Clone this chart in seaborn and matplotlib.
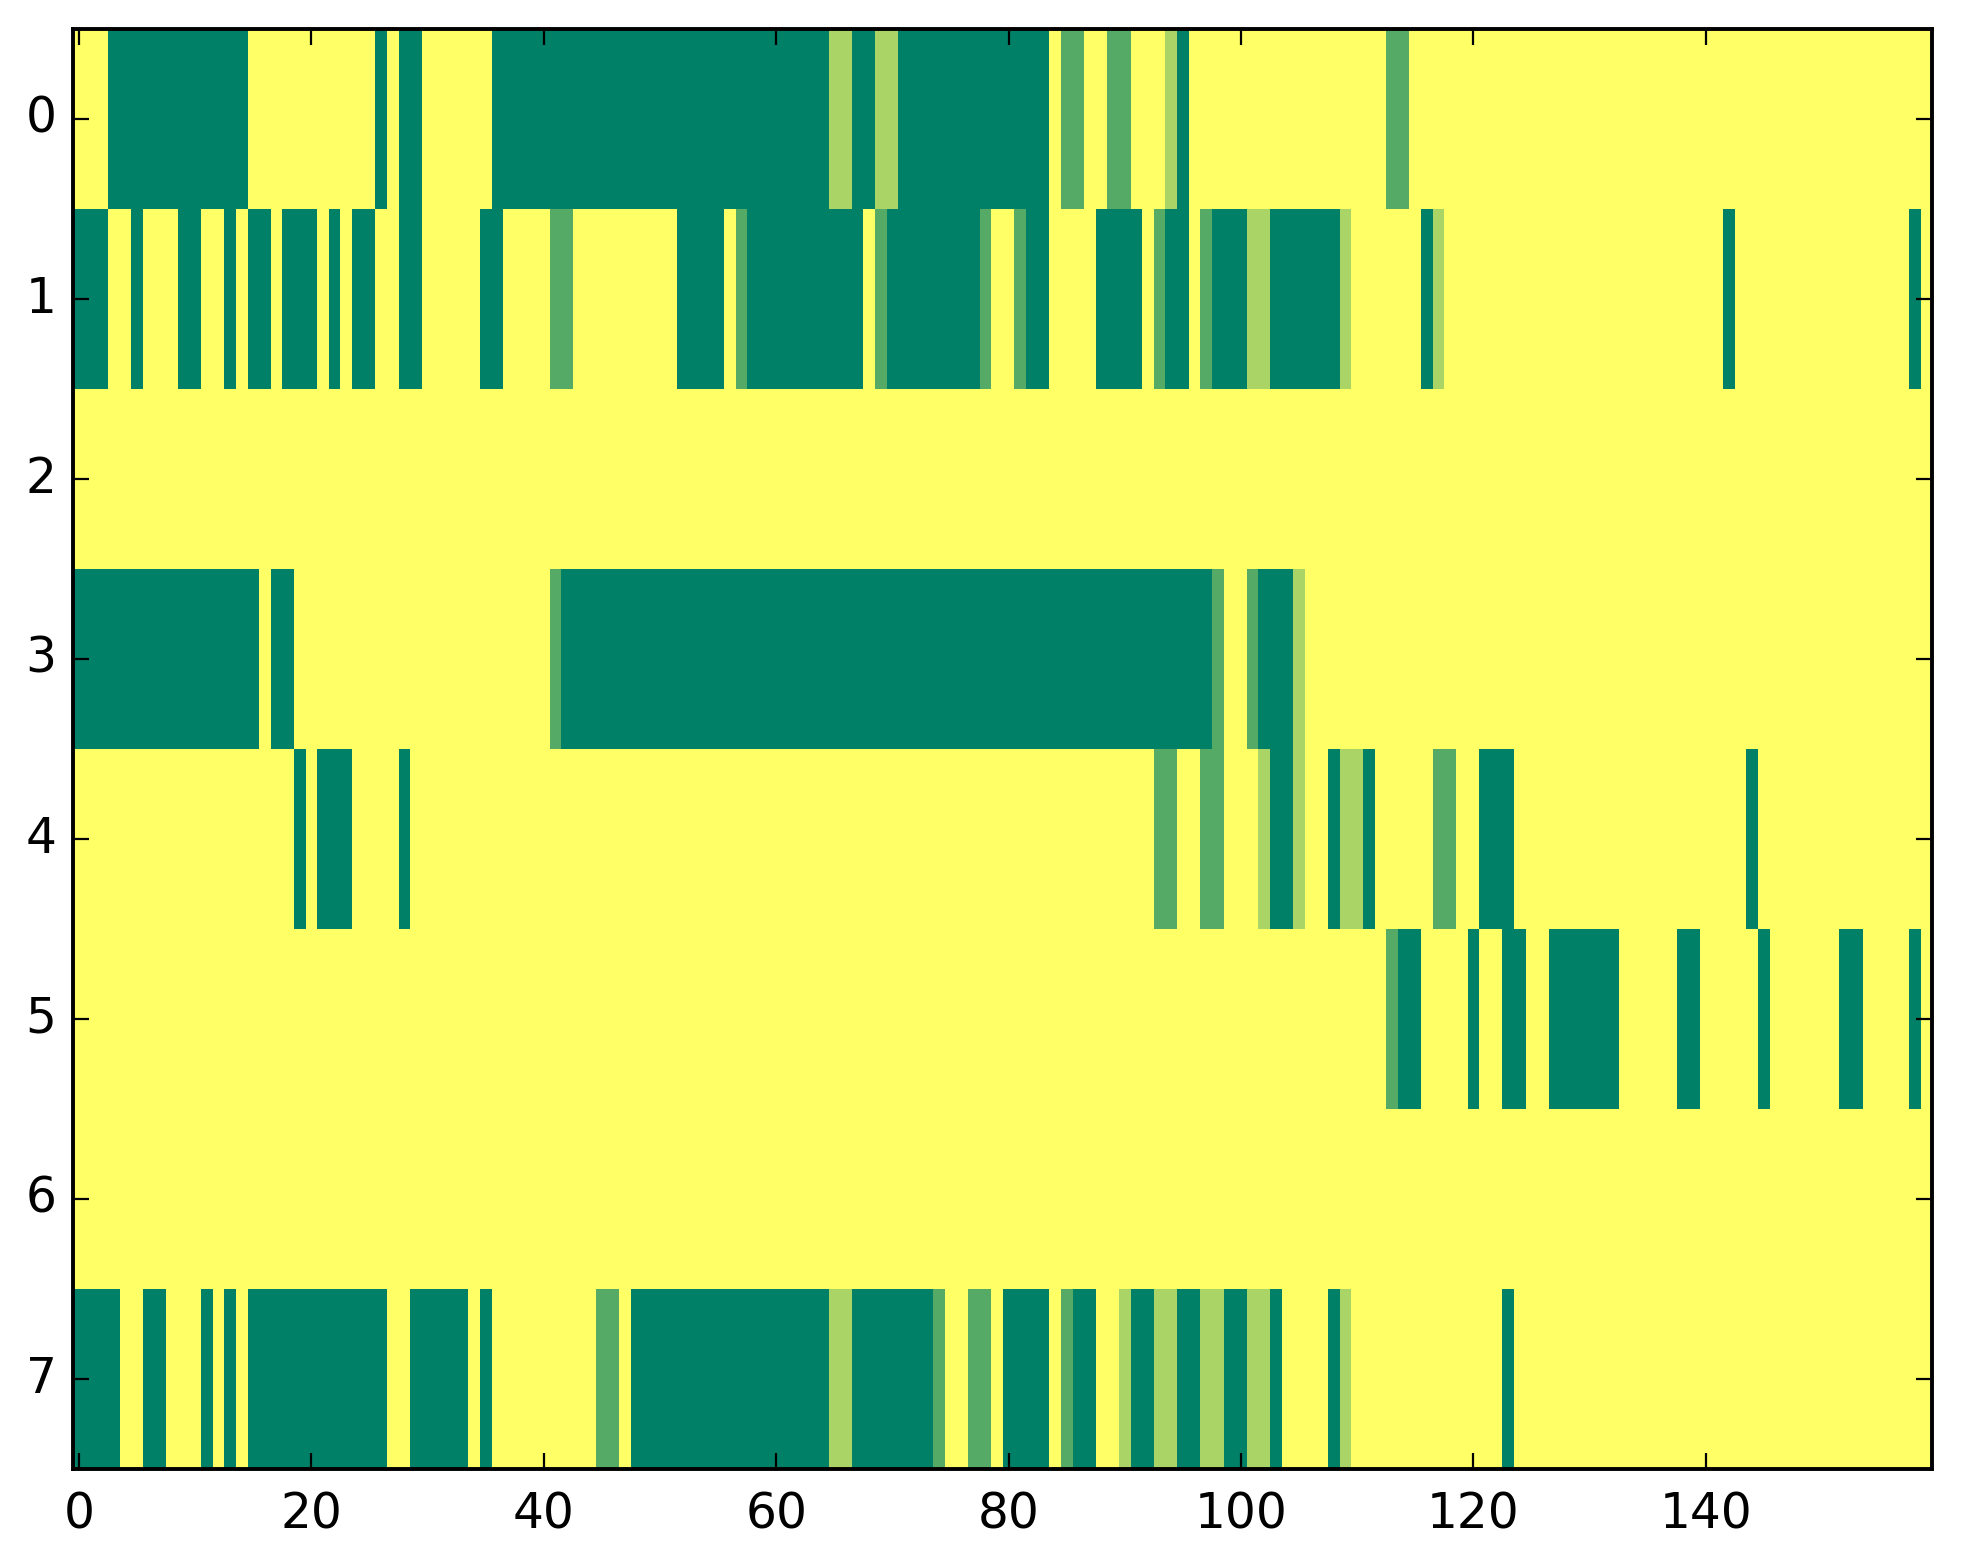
import matplotlib
matplotlib.use('Agg')  # no display
import matplotlib.pyplot as plt
import seaborn as sns
import numpy as np
import pandas as pd

# each row as (value, run length) pairs, 160 columns per row
# 0 = yellow, 1 = light green, 2 = mid green, 3 = dark green
row0 = [(0, 3), (3, 12), (0, 11), (3, 1), (0, 1), (3, 2), (0, 6), (3, 29), (1, 2), (3, 2),
        (1, 2), (3, 13), (0, 1), (2, 2), (0, 2), (2, 2), (0, 3), (1, 1), (3, 1), (0, 17),
        (2, 2), (0, 45)]
row1 = [(3, 3), (0, 2), (3, 1), (0, 3), (3, 2), (0, 2), (3, 1), (0, 1), (3, 2), (0, 1),
        (3, 3), (0, 1), (3, 1), (0, 1), (3, 2), (0, 2), (3, 2), (0, 5), (3, 2), (0, 4),
        (2, 2), (0, 9), (3, 4), (0, 1), (2, 1), (3, 10), (0, 1), (2, 1), (3, 8), (2, 1),
        (0, 2), (2, 1), (3, 2), (0, 4), (3, 4), (0, 1), (2, 1), (3, 2), (0, 1), (2, 1),
        (3, 3), (1, 2), (3, 6), (1, 1), (0, 6), (3, 1), (1, 1), (0, 24), (3, 1), (0, 15),
        (3, 1), (0, 1)]
row2 = [(0, 160)]
row3 = [(3, 16), (0, 1), (3, 2), (0, 22), (2, 1), (3, 56), (2, 1), (0, 2), (2, 1), (3, 3),
        (1, 1), (0, 54)]
row4 = [(0, 19), (3, 1), (0, 1), (3, 3), (0, 4), (3, 1), (0, 64), (2, 2), (0, 2), (2, 2),
        (0, 3), (1, 1), (3, 2), (1, 1), (0, 2), (3, 1), (1, 2), (3, 1), (0, 5), (2, 2),
        (0, 2), (3, 3), (0, 20), (3, 1), (0, 15)]
row5 = [(0, 113), (2, 1), (3, 2), (0, 4), (3, 1), (0, 2), (3, 2), (0, 2), (3, 6), (0, 5),
        (3, 2), (0, 5), (3, 1), (0, 6), (3, 2), (0, 4), (3, 1), (0, 1)]
row6 = [(0, 160)]
row7 = [(3, 4), (0, 2), (3, 2), (0, 3), (3, 1), (0, 1), (3, 1), (0, 1), (3, 12), (0, 2),
        (3, 5), (0, 1), (3, 1), (0, 9), (2, 2), (0, 1), (3, 17), (1, 2), (3, 7), (2, 1),
        (0, 2), (2, 2), (0, 1), (3, 4), (0, 1), (2, 1), (3, 2), (0, 2), (1, 1), (3, 2),
        (1, 2), (3, 2), (1, 2), (3, 2), (1, 2), (3, 1), (0, 4), (3, 1), (1, 1), (0, 13),
        (3, 1), (0, 36)]

rows = [row0, row1, row2, row3, row4, row5, row6, row7]
x_ticks = [0, 20, 40, 60, 80, 100, 120, 140]


def expand(runs):
    vals = [v for v, _ in runs]
    counts = [n for _, n in runs]
    return np.repeat(vals, counts)


data = pd.DataFrame(np.vstack([expand(r) for r in rows]))

fig = plt.figure(figsize=(9.815, 7.82), dpi=200)
ax = fig.add_axes([0.0373, 0.0610, 0.9471, 0.9207])
sns.heatmap(data, cmap="summer_r", vmin=0, vmax=3, cbar=False, ax=ax)

ax.set_xticks([t + 0.5 for t in x_ticks])
ax.set_xticklabels([str(t) for t in x_ticks], rotation=0)
ax.set_yticks([i + 0.5 for i in range(len(rows))])
ax.set_yticklabels([str(i) for i in range(len(rows))], rotation=0)
ax.set_xlabel('')
ax.set_ylabel('')

for s in ax.spines.values():
    s.set_visible(True)
    s.set_linewidth(1.4)
    s.set_color('black')

ax.tick_params(axis='both', direction='in', top=True, right=True,
               labeltop=False, labelright=False, length=5.8, width=0.8,
               labelsize=17.5, colors='black')
ax.tick_params(axis='x', pad=8)
ax.tick_params(axis='y', pad=6)

plt.savefig('out.png', dpi=200)
plt.close()
